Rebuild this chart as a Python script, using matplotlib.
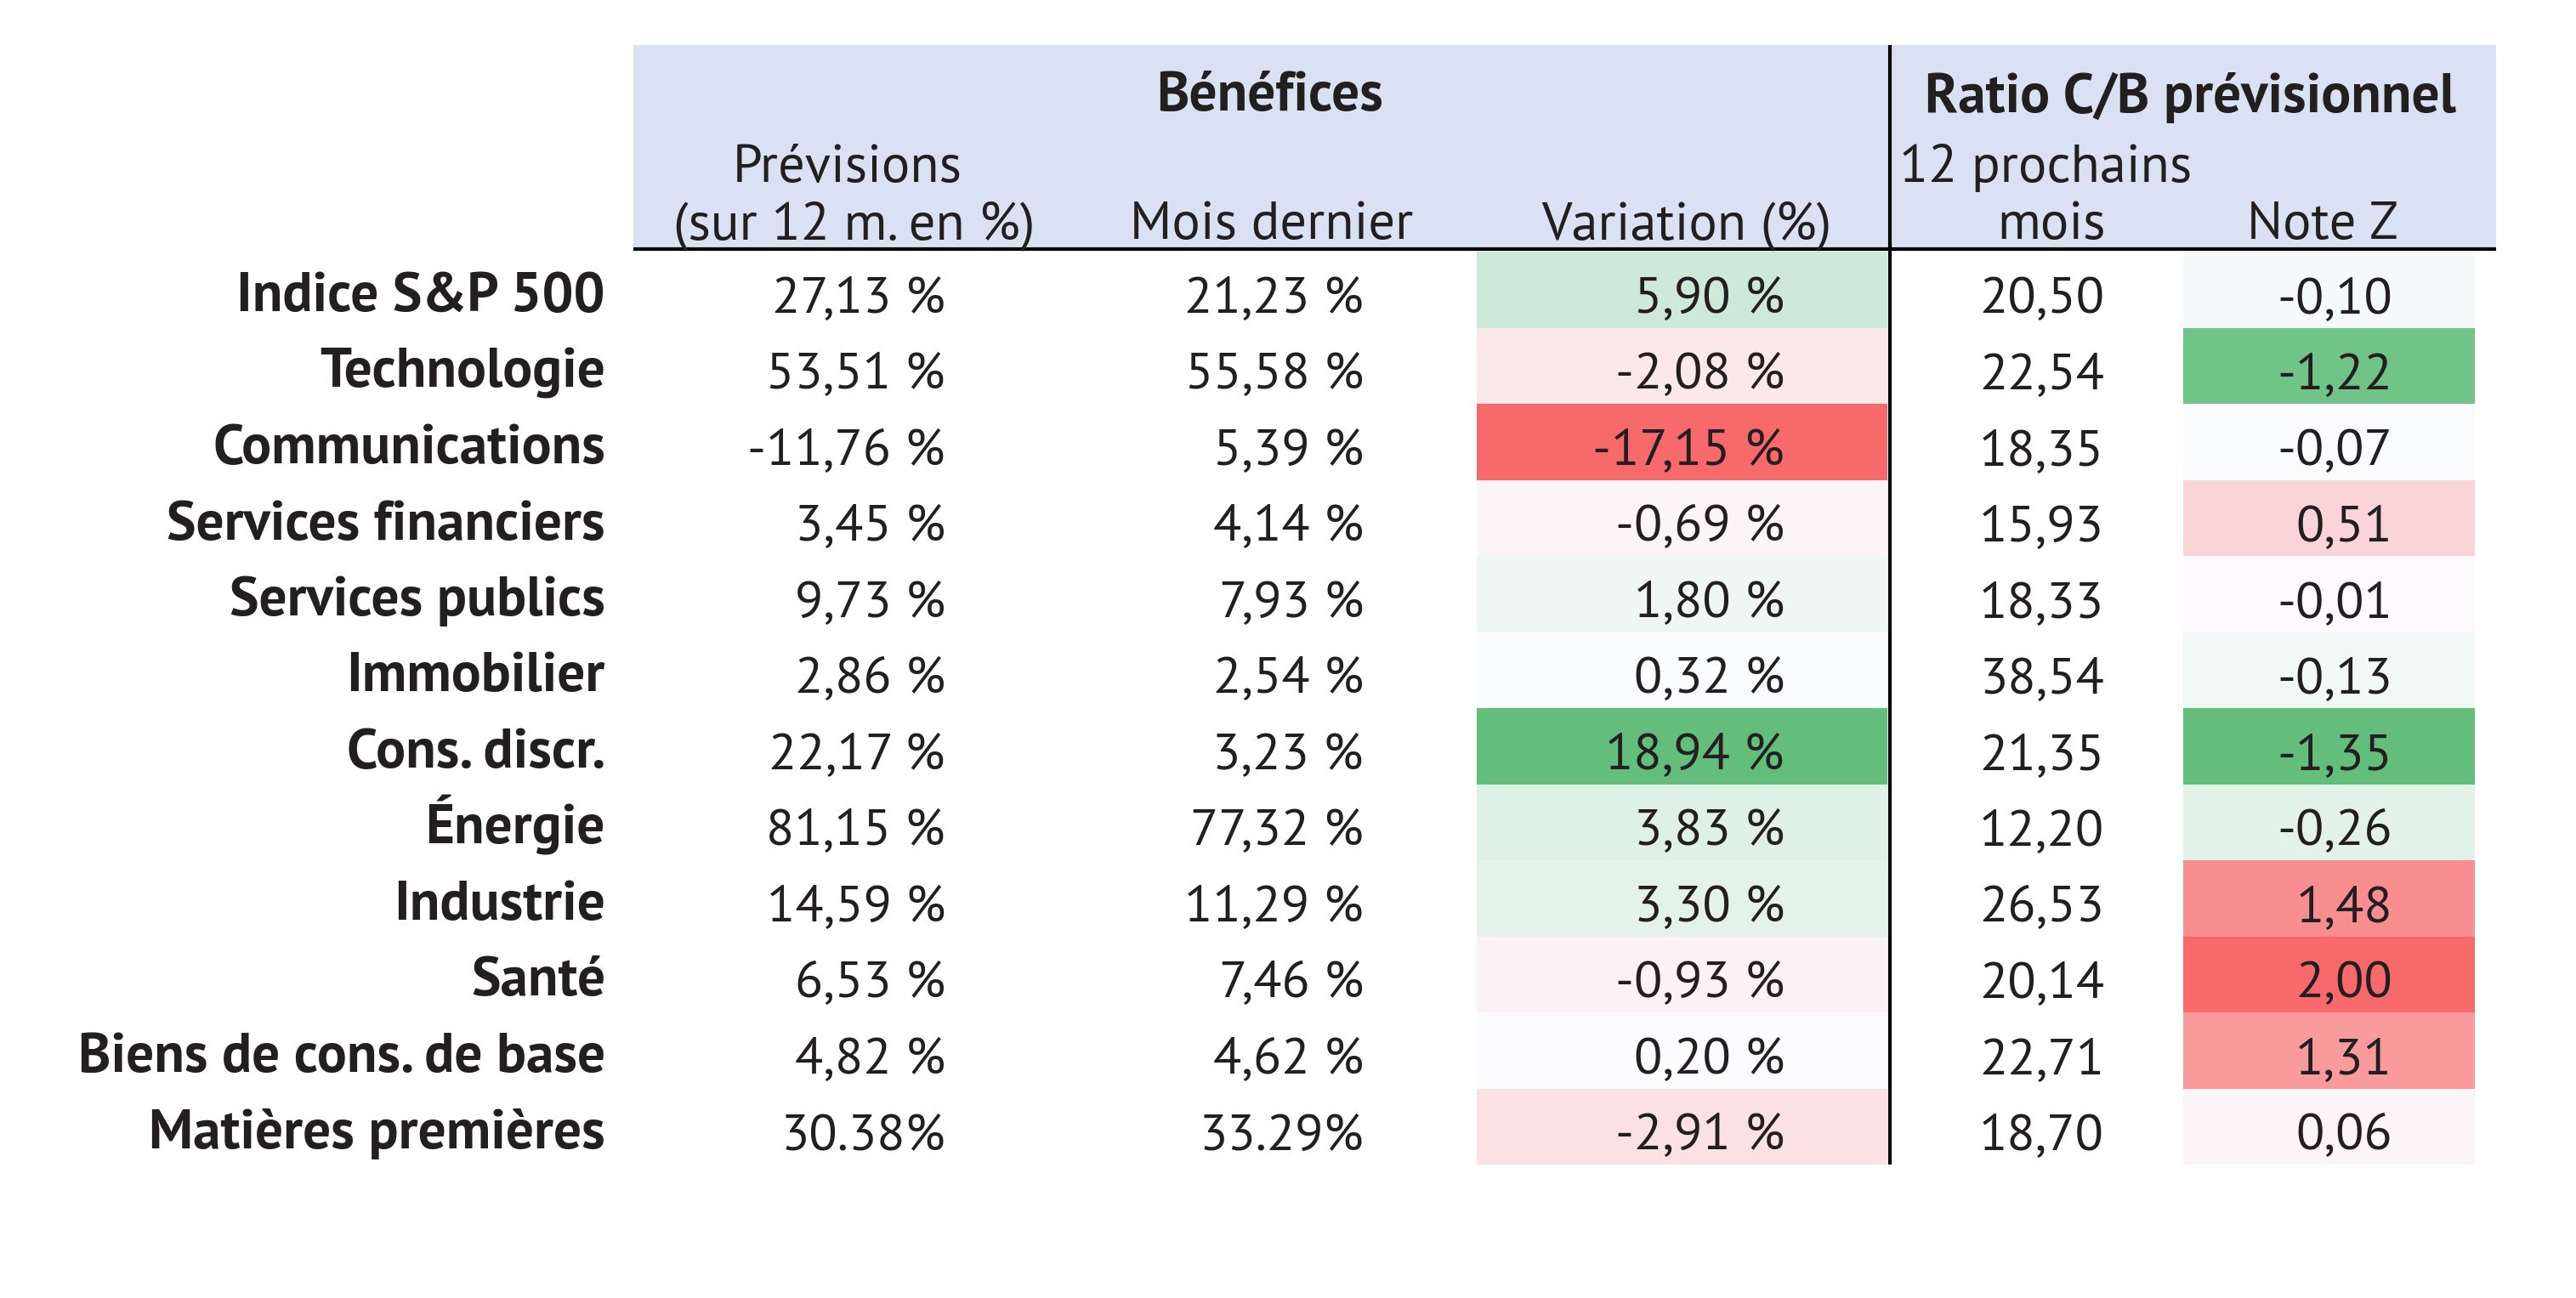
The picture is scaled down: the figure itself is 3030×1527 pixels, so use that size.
import numpy as np
import matplotlib
matplotlib.use("Agg")
import matplotlib.pyplot as plt
from matplotlib.colors import LinearSegmentedColormap, TwoSlopeNorm
from matplotlib.patches import Rectangle

plt.rcParams['font.family'] = ['PT Sans', 'DejaVu Sans']

# data
sectors = ["Indice S&P 500", "Technologie", "Communications", "Services financiers",
           "Services publics", "Immobilier", "Cons. discr.", "Énergie", "Industrie",
           "Santé", "Biens de cons. de base", "Matières premières"]
previsions = [27.13, 53.51, -11.76, 3.45, 9.73, 2.86, 22.17, 81.15, 14.59, 6.53, 4.82, 30.38]
mois_dernier = [21.23, 55.58, 5.39, 4.14, 7.93, 2.54, 3.23, 77.32, 11.29, 7.46, 4.62, 33.29]
variation = [5.90, -2.08, -17.15, -0.69, 1.80, 0.32, 18.94, 3.83, 3.30, -0.93, 0.20, -2.91]
ratio_cb = [20.50, 22.54, 18.35, 15.93, 18.33, 38.54, 21.35, 12.20, 26.53, 20.14, 22.71, 18.70]
note_z = [-0.10, -1.22, -0.07, 0.51, -0.01, -0.13, -1.35, -0.26, 1.48, 2.00, 1.31, 0.06]
point_style_rows = [11]     # rows written as "30.38%" in the source table

TXT = '#231f20'
HEAD_BG = '#d9e1f2'
FS = 44        # numbers
FS_HEAD = 45   # header captions
FS_BOLD = 47   # bold labels / group titles

def pct(v, i):
    if i in point_style_rows:
        return f"{v:.2f}%"
    return f"{v:.2f}".replace('.', ',') + " %"

def num(v):
    return f"{v:.2f}".replace('.', ',')

# excel style 3-colour scales, midpoint at the median
gwr = LinearSegmentedColormap.from_list('gwr', ['#63be7b', '#fcfcff', '#f8696b'])
rwg = gwr.reversed()
var_norm = TwoSlopeNorm(vcenter=np.median(variation), vmin=min(variation), vmax=max(variation))
z_norm = TwoSlopeNorm(vcenter=np.median(note_z), vmin=min(note_z), vmax=max(note_z))

fig = plt.figure(figsize=(30.3, 15.27), dpi=100)
ax = fig.add_axes([0, 0, 1, 1])
ax.set_xlim(0, 3030)
ax.set_ylim(1527, 0)
ax.axis('off')

# header
ax.add_patch(Rectangle((745, 53), 2936 - 745, 240, facecolor=HEAD_BG, edgecolor='none'))
ax.text(1494, 130, "Bénéfices", ha='center', va='baseline', fontsize=FS_BOLD, weight='bold', color=TXT)
ax.text(2576, 132, "Ratio C/B prévisionnel", ha='center', va='baseline', fontsize=FS_BOLD, weight='bold', color=TXT)
ax.text(997, 214, "Prévisions", ha='center', va='baseline', fontsize=FS_HEAD, color=TXT)
ax.text(1005, 281, "(sur 12 m. en %)", ha='center', va='baseline', fontsize=FS_HEAD, color=TXT)
ax.text(1496, 281, "Mois dernier", ha='center', va='baseline', fontsize=FS_HEAD, color=TXT)
ax.text(1984, 281, "Variation (%)", ha='center', va='baseline', fontsize=FS_HEAD, color=TXT)
ax.text(2234, 214, "12 prochains", ha='left', va='baseline', fontsize=FS_HEAD, color=TXT)
ax.text(2413, 281, "mois", ha='center', va='baseline', fontsize=FS_HEAD, color=TXT)
ax.text(2732, 281, "Note Z", ha='center', va='baseline', fontsize=FS_HEAD, color=TXT)

# rows
top0 = 296
rh = 89.5
for i, name in enumerate(sectors):
    top = top0 + i * rh
    base = top + 72
    ax.add_patch(Rectangle((1737, top), 2220 - 1737, rh,
                           facecolor=rwg(var_norm(variation[i])), edgecolor='none'))
    ax.add_patch(Rectangle((2568, top), 2911 - 2568, rh,
                           facecolor=gwr(z_norm(note_z[i])), edgecolor='none'))
    ax.text(712, base - 2, name, ha='right', va='baseline', fontsize=FS_BOLD, weight='bold', color=TXT)
    ax.text(1112, base, pct(previsions[i], i), ha='right', va='baseline', fontsize=FS, color=TXT)
    ax.text(1604, base, pct(mois_dernier[i], i), ha='right', va='baseline', fontsize=FS, color=TXT)
    ax.text(2099, base, pct(variation[i], -1), ha='right', va='baseline', fontsize=FS, color=TXT)
    ax.text(2475, base, num(ratio_cb[i]), ha='right', va='baseline', fontsize=FS, color=TXT)
    ax.text(2814, base, num(note_z[i]), ha='right', va='baseline', fontsize=FS, color=TXT)

# rules
ax.plot([745, 2936], [293, 293], color='black', lw=3, solid_capstyle='butt')
ax.plot([2223, 2223], [53, top0 + 12 * rh], color='black', lw=3, solid_capstyle='butt')

fig.savefig("out.png", dpi=100, facecolor='white')
